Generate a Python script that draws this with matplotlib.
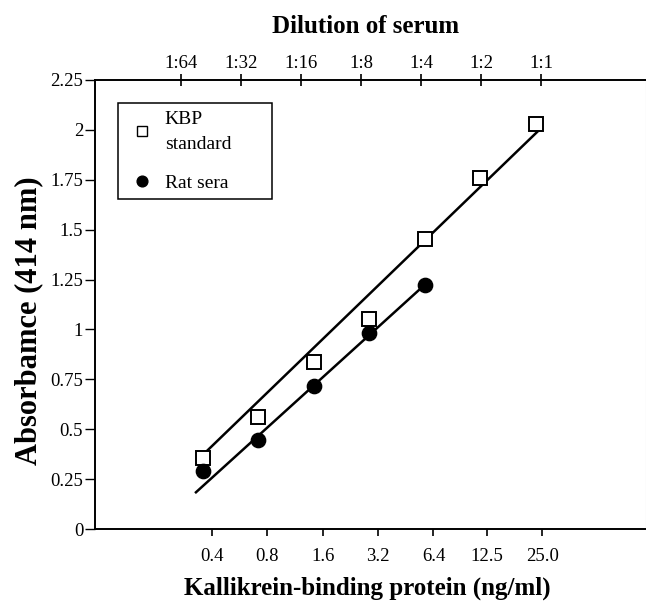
import matplotlib
matplotlib.use("Agg")
import matplotlib.pyplot as plt

plt.rcParams['font.family'] = ['Liberation Serif', 'DejaVu Serif']

# ---- data ----
kbp_conc = [25/64, 25/32, 25/16, 25/8, 25/4, 25/2, 25.0]      # ng/ml
kbp_abs = [0.354, 0.563, 0.838, 1.052, 1.451, 1.757, 2.029]
rat_conc = [25/64, 25/32, 25/16, 25/8, 25/4]
rat_abs = [0.292, 0.446, 0.718, 0.980, 1.222]

kbp_fit_x = [0.373, 25.4]
kbp_fit_y = [0.354, 1.990]
rat_fit_x = [0.358, 6.0]
rat_fit_y = [0.184, 1.21]

bottom_ticks = [0.4, 0.8, 1.6, 3.2, 6.4, 12.5, 25.0]
bottom_labels = ["0.4", "0.8", "1.6", "3.2", "6.4", "12.5", "25.0"]
top_ticks = [1/64, 1/32, 1/16, 1/8, 1/4, 1/2, 1]
top_labels = ["1:64", "1:32", "1:16", "1:8", "1:4", "1:2", "1:1"]
y_ticks = [0, 0.25, 0.5, 0.75, 1, 1.25, 1.5, 1.75, 2, 2.25]
y_labels = ["0", "0.25", "0.5", "0.75", "1", "1.25", "1.5", "1.75", "2", "2.25"]

W, H = 646, 603
fig = plt.figure(figsize=(W/100, H/100), dpi=100)
ax = fig.add_axes([95/W, 1-529/H, (645.5-95)/W, (529-80)/H])

# data axis (hidden x ticks)
ax.set_xscale('log', base=2)
ax.set_xlim(0.10145, 98.2)
ax.set_ylim(0, 2.25)
ax.set_xticks([])
ax.xaxis.set_minor_locator(matplotlib.ticker.NullLocator())

ax.plot(kbp_fit_x, kbp_fit_y, color='black', lw=1.8, zorder=2)
ax.plot(rat_fit_x, rat_fit_y, color='black', lw=1.8, zorder=2)
ax.plot(kbp_conc, kbp_abs, linestyle='none', marker='s', markersize=9.6,
        markerfacecolor='white', markeredgecolor='black', markeredgewidth=1.4,
        label='KBP\nstandard', zorder=3)
ax.plot(rat_conc, rat_abs, linestyle='none', marker='o', markersize=10.3,
        markerfacecolor='black', markeredgecolor='black',
        label='Rat sera', zorder=3)

ax.set_yticks(y_ticks)
ax.set_yticklabels(y_labels)
ax.tick_params(axis='y', direction='out', length=7, width=1.0, pad=1.5,
               labelsize=13.5)
for s in ['left', 'bottom', 'top']:
    ax.spines[s].set_linewidth(1.4)
ax.spines['right'].set_color('#d0d0d0')
ax.spines['right'].set_linewidth(0.8)

# top axis: dilution of serum
axt = ax.twiny()
axt.set_xscale('log', base=2)
axt.set_xlim(0.005777, 3.325)
axt.set_xticks(top_ticks)
axt.set_xticklabels(top_labels)
axt.xaxis.set_minor_locator(matplotlib.ticker.NullLocator())
axt.xaxis.set_ticks_position('top')
axt.tick_params(axis='x', direction='inout', length=9, width=1.2, pad=1.0,
                labelsize=13.5)
for s in axt.spines.values():
    s.set_visible(False)

# bottom axis: KBP concentration
axb = ax.twiny()
axb.set_xscale('log', base=2)
axb.set_xlim(0.09272, 90.8)
axb.xaxis.set_ticks_position('bottom')
axb.xaxis.set_label_position('bottom')
axb.set_xticks(bottom_ticks)
axb.set_xticklabels(bottom_labels)
axb.xaxis.set_minor_locator(matplotlib.ticker.NullLocator())
axb.tick_params(axis='x', direction='out', length=5, width=1.2, pad=9,
                labelsize=13.5)
for s in axb.spines.values():
    s.set_visible(False)

leg = ax.legend(loc='upper left',
                bbox_to_anchor=(118/W, 1-200/H, 154/W, 97/H),
                bbox_transform=fig.transFigure, mode='expand',
                borderaxespad=0, fancybox=False, edgecolor='black',
                fontsize=14, borderpad=0.4, handlelength=1.7,
                handletextpad=0.3, labelspacing=1.1, markerscale=0.75,
                framealpha=1)
leg.get_frame().set_linewidth(1.1)
for t in leg.get_texts():
    t.set_linespacing(1.6)
for h in leg.legend_handles:
    h.set_markeredgewidth(1.0)

fig.text(366/W, 1-33/H, 'Dilution of serum', ha='center', va='baseline',
         fontsize=18, fontweight='bold')
fig.text(367.5/W, 1-595/H, 'Kallikrein-binding protein (ng/ml)', ha='center',
         va='baseline', fontsize=18, fontweight='bold')
fig.text(29/W, 1-321/H, 'Absorbamce (414 nm)', ha='center', va='center',
         rotation=90, fontsize=22, fontweight='bold')

fig.savefig('out.png', dpi=100)
